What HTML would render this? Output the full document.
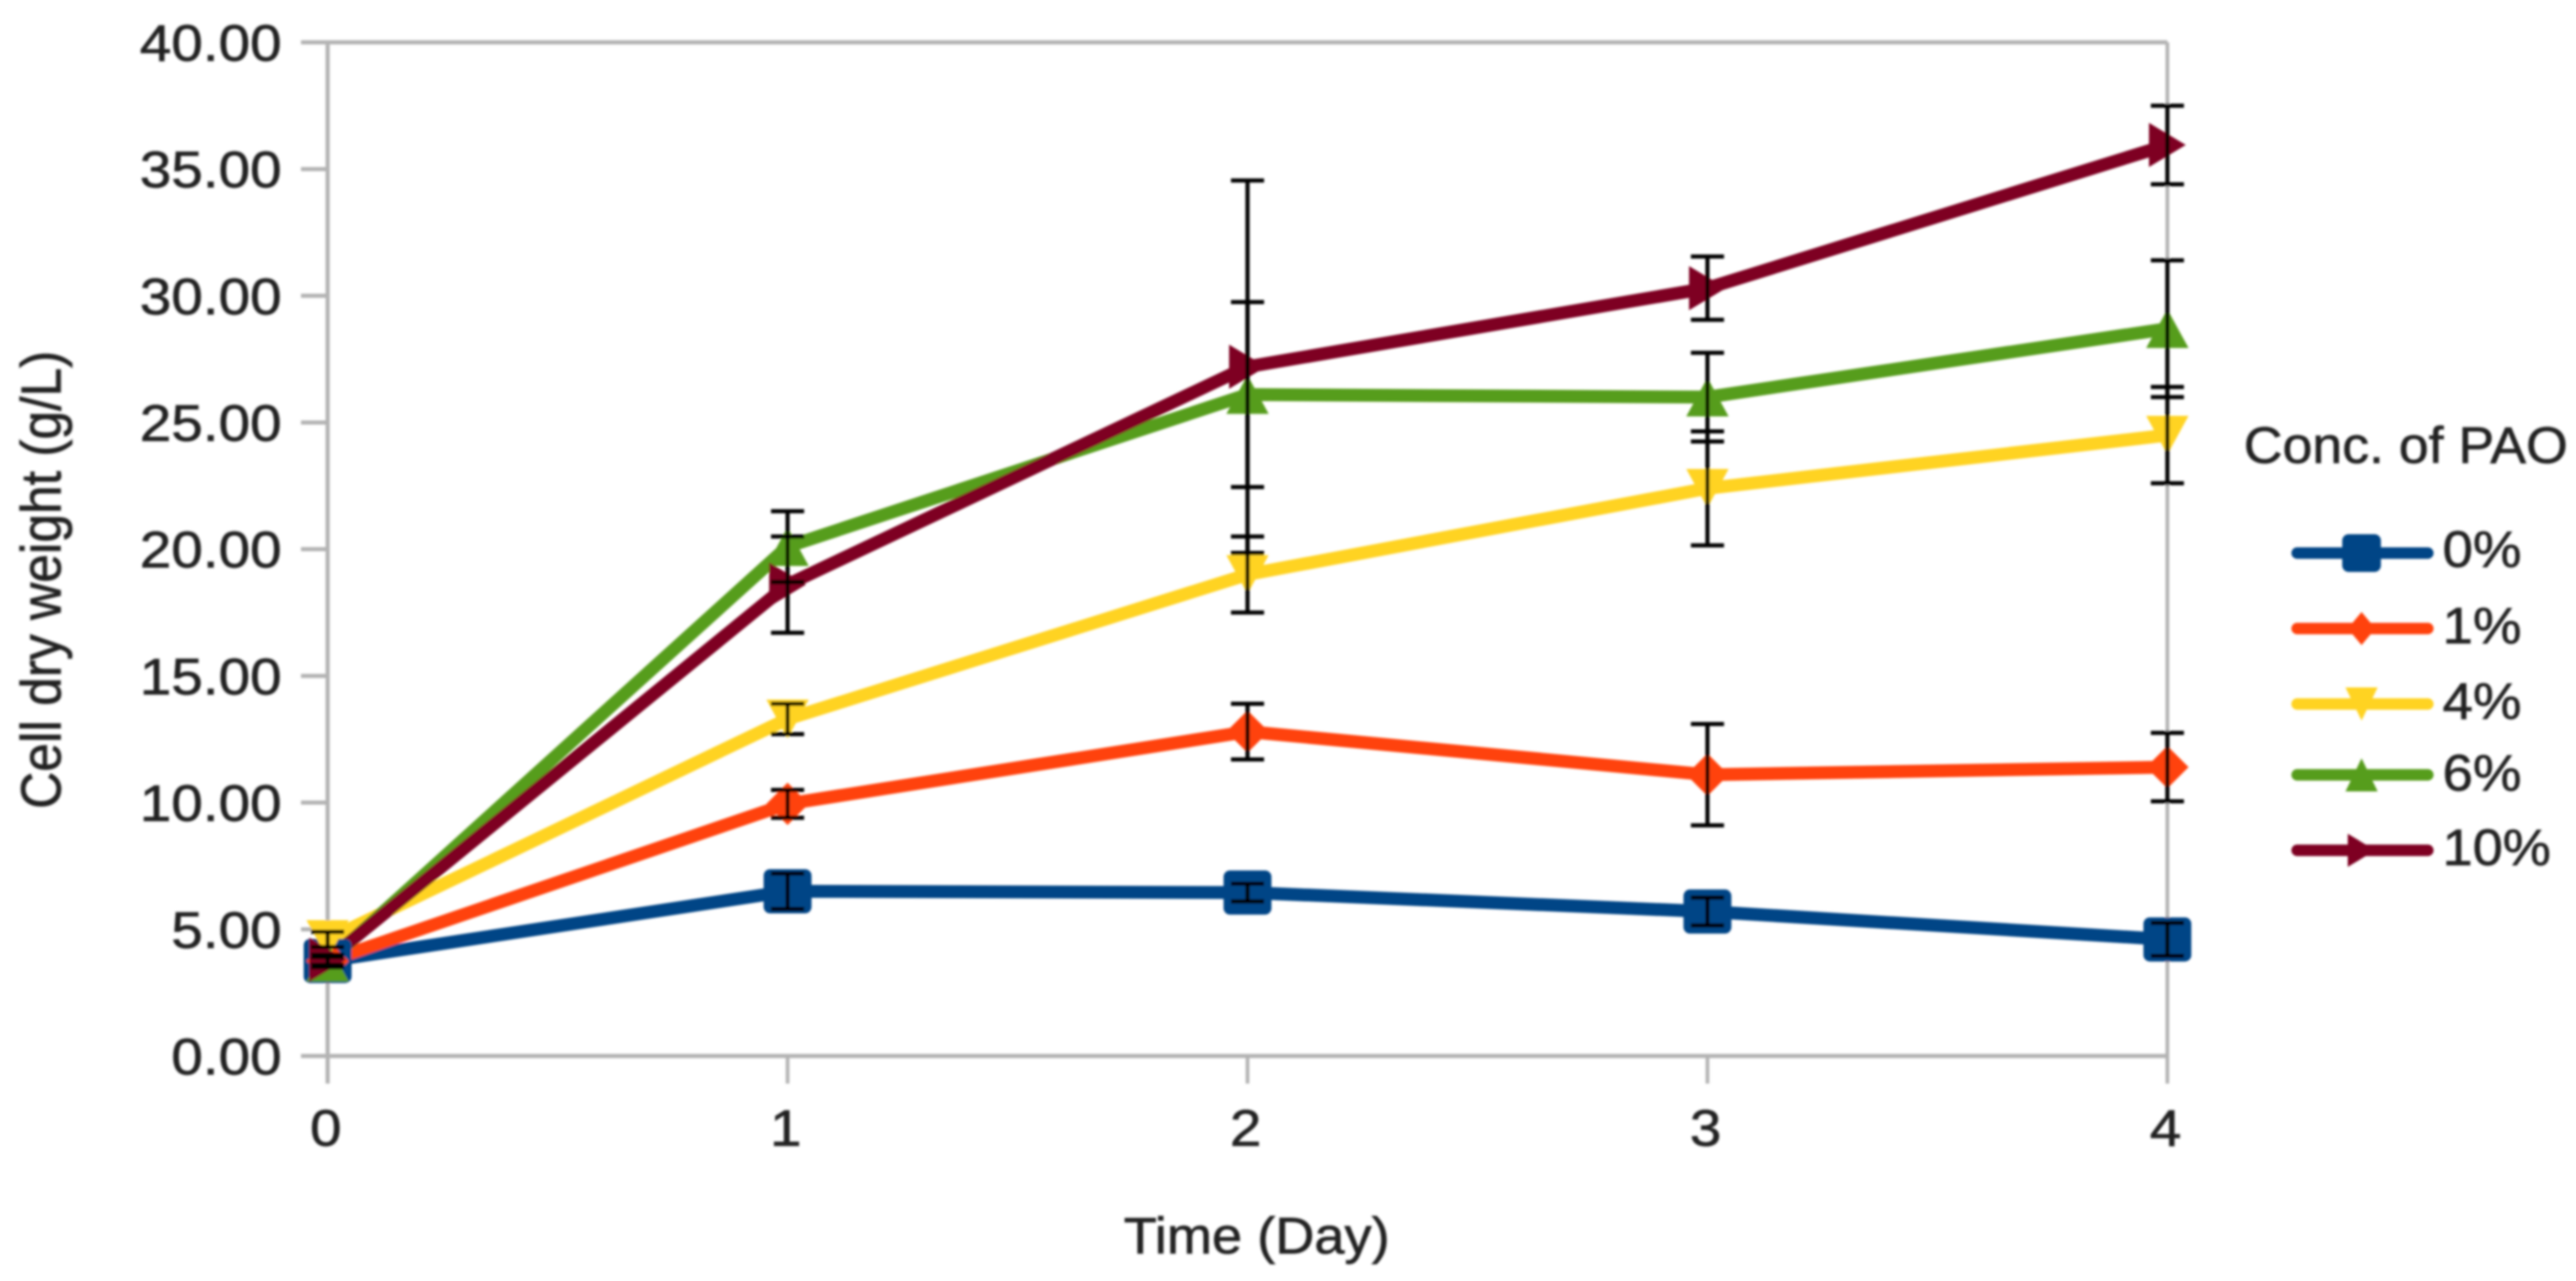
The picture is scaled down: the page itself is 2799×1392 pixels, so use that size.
<!DOCTYPE html>
<html lang="en">
<head>
<meta charset="utf-8">
<title>Cell dry weight over time</title>
<style>
html,body{margin:0;padding:0;background:#fff;}
svg{display:block;}
text{font-family:"Liberation Sans",sans-serif;font-size:56px;fill:#222;stroke:#222;stroke-width:0.7px;}
</style>
</head>
<body>
<svg id="chart" xmlns="http://www.w3.org/2000/svg" width="2799" height="1392" viewBox="0 0 2799 1392">
  <defs><filter id="soft" x="-2%" y="-2%" width="104%" height="104%"><feGaussianBlur stdDeviation="1.2"/></filter></defs>
  <rect width="2799" height="1392" fill="#ffffff"/>
  <g id="root" filter="url(#soft)">
    <g id="axes"></g>
    <g id="lines"></g>
    <g id="markers"></g>
    <g id="errors"></g>
    <g id="legend"></g>
    <g id="labels" transform="scale(1.1,1)">
      <text transform="translate(60,879) rotate(-90)">Cell dry weight (g/L)</text>
      <text x="1110" y="1362" textLength="262.7" lengthAdjust="spacingAndGlyphs">Time (Day)</text>
      <text x="2216.4" y="503" textLength="320" lengthAdjust="spacingAndGlyphs">Conc. of PAO</text>
    </g>
  </g>
</svg>
<script>
const days = [0, 1, 2, 3, 4];
const yTickValues = [0, 5, 10, 15, 20, 25, 30, 35, 40];
const yTickLabels = ["0.00", "5.00", "10.00", "15.00", "20.00", "25.00", "30.00", "35.00", "40.00"];
const xTickLabels = ["0", "1", "2", "3", "4"];
const seriesNames = ["0%", "1%", "4%", "6%", "10%"];
const seriesColors = ["#004586", "#ff420e", "#ffd320", "#579d1c", "#7e0021"];
const seriesShapes = ["square", "diamond", "down", "up", "right"];
const values0 = [3.75, 6.5, 6.45, 5.7, 4.6];
const values1 = [3.75, 9.95, 12.8, 11.1, 11.4];
const values4 = [4.6, 13.3, 19.0, 22.4, 24.5];
const values6 = [3.7, 20.1, 26.1, 26.0, 28.7];
const values10 = [3.8, 18.6, 27.2, 30.3, 35.95];
const errors0 = [0.2, 0.7, 0.35, 0.55, 0.65];
const errors1 = [0.2, 0.55, 1.1, 2.0, 1.35];
const errors4 = [0.3, 0.6, 1.5, 2.25, 1.9];
const errors6 = [0.2, 1.4, 3.65, 1.75, 2.7];
const errors10 = [0.2, 1.9, 7.35, 1.25, 1.55];
const allValues = [values0, values1, values4, values6, values10];
const allErrors = [errors0, errors1, errors4, errors6, errors10];

const NS = "http://www.w3.org/2000/svg";
const xMin = 0, xMax = 4, yMin = 0, yMax = 40;
const plotLeft = 356, plotRight = 2355, plotTop = 46, plotBottom = 1147.5;
function xScale(d) { return plotLeft + (d - xMin) / (xMax - xMin) * (plotRight - plotLeft); }
function yScale(v) { return plotBottom - (v - yMin) / (yMax - yMin) * (plotBottom - plotTop); }
function mk(parent, tag, attrs) {
  const el = document.createElementNS(NS, tag);
  for (const k in attrs) el.setAttribute(k, attrs[k]);
  parent.appendChild(el);
  return el;
}
function shapePoints(shape, cx, cy, w, h) {
  const a = w / 2, b = h / 2;
  if (shape === "diamond") return [[cx - a, cy], [cx, cy - b], [cx + a, cy], [cx, cy + b]];
  if (shape === "down") return [[cx - a, cy - b], [cx + a, cy - b], [cx, cy + b]];
  if (shape === "up") return [[cx - a, cy + b], [cx + a, cy + b], [cx, cy - b]];
  if (shape === "right") return [[cx - a, cy - b], [cx + a, cy], [cx - a, cy + b]];
  return [];
}
function drawMarker(parent, shape, cx, cy, w, h, color) {
  if (shape === "square") {
    return mk(parent, "rect", { x: cx - w / 2, y: cy - h / 2, width: w, height: h, rx: 7, fill: color });
  }
  const pts = shapePoints(shape, cx, cy, w, h).map(function (p) { return p.join(","); }).join(" ");
  return mk(parent, "polygon", { points: pts, fill: color });
}

const axes = document.getElementById("axes");
const labels = document.getElementById("labels");
const lines = document.getElementById("lines");
const markers = document.getElementById("markers");
const errorsGroup = document.getElementById("errors");
const legend = document.getElementById("legend");
const axisColor = "#b3b3b3";
const axisWidth = 4.5;

const leftAxis = mk(axes, "line", { x1: plotLeft, x2: plotLeft, y1: plotTop, y2: plotBottom + 30, stroke: axisColor, "stroke-width": axisWidth });


const bottomAxis = mk(axes, "line", { x1: plotLeft, x2: plotRight, y1: plotBottom, y2: plotBottom, stroke: axisColor, "stroke-width": axisWidth });


const topBorder = mk(axes, "line", { x1: plotLeft, x2: plotRight, y1: plotTop, y2: plotTop, stroke: axisColor, "stroke-width": axisWidth });



yTickValues.forEach(function (v, i) {
  const py = yScale(v);
  const tick = mk(axes, "line", { x1: plotLeft - 29, x2: plotLeft, y1: py, y2: py, stroke: axisColor, "stroke-width": axisWidth });
  
  
  const label = mk(labels, "text", { x: 306 / 1.1, y: py + 20, "text-anchor": "end" });
  
  
  label.textContent = yTickLabels[i];
});

days.forEach(function (d, i) {
  const px = xScale(d);
  const tick = mk(axes, "line", { x1: px, x2: px, y1: plotBottom, y2: plotBottom + 30, stroke: axisColor, "stroke-width": 4 });
  
  
  if (i === days.length - 1) {
    const rightBorder = mk(axes, "line", { x1: px, x2: px, y1: plotTop, y2: plotBottom, stroke: axisColor, "stroke-width": 4 });
    
    
  }
  const label = mk(labels, "text", { x: (px - 2) / 1.1, y: 1245, "text-anchor": "middle" });
  
  
  label.textContent = xTickLabels[i];
});

const markerW = [52, 46, 46, 46, 40];
const markerH = [48, 46, 42, 42, 48];
const legendMarkerW = [42, 30, 35, 35, 30];
const legendMarkerH = [41, 36, 36, 36, 36];

seriesNames.forEach(function (name, s) {
  const color = seriesColors[s];
  const vals = allValues[s];
  const pts = days.map(function (d, i) { return xScale(d) + "," + yScale(vals[i]); }).join(" ");
  const line = mk(lines, "polyline", { points: pts, fill: "none", stroke: color, "stroke-width": 14, "stroke-linejoin": "round", "stroke-linecap": "round" });
  
  
  days.forEach(function (d, i) {
    const m = drawMarker(markers, seriesShapes[s], xScale(d), yScale(vals[i]), markerW[s], markerH[s], color);
    
    
  });
});

seriesNames.forEach(function (name, s) {
  const vals = allValues[s];
  const errs = allErrors[s];
  days.forEach(function (d, i) {
    const px = xScale(d);
    const hi = yScale(vals[i] + errs[i]);
    const lo = yScale(vals[i] - errs[i]);
    const g = mk(errorsGroup, "path", {
      d: "M" + px + " " + hi + "V" + lo + "M" + (px - 18) + " " + hi + "H" + (px + 18) + "M" + (px - 18) + " " + lo + "H" + (px + 18),
      fill: "none", stroke: "#000000", "stroke-width": 4.5
    });
    
    
  });
});

const legendLineY = [601, 683, 765, 842, 924];
const legendTextY = [616, 699, 781, 859, 940];
const legendTextLen = [78, 78, 78, 78, 107];
seriesNames.forEach(function (name, s) {
  const cy = legendLineY[s];
  const color = seriesColors[s];
  const ln = mk(legend, "line", { x1: 2496, x2: 2638, y1: cy, y2: cy, stroke: color, "stroke-width": 12.5, "stroke-linecap": "round" });
  
  
  const m = drawMarker(legend, seriesShapes[s], 2566, cy, legendMarkerW[s], legendMarkerH[s], color);
  
  
  const t = mk(labels, "text", { x: 2654 / 1.1, y: legendTextY[s], textLength: legendTextLen[s], lengthAdjust: "spacingAndGlyphs" });
  
  
  t.textContent = name;
});
</script>
</body>
</html>
